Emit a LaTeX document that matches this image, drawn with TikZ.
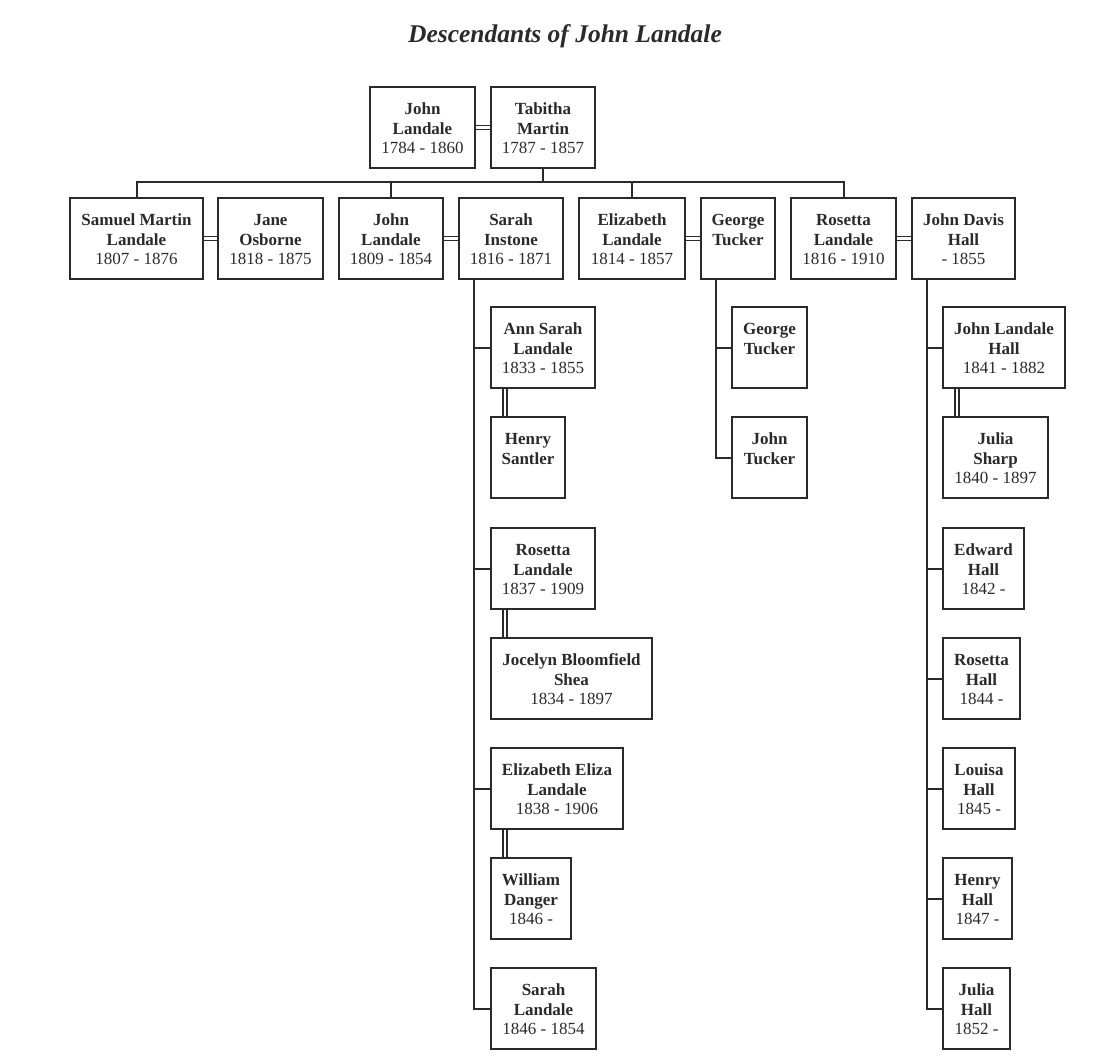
\documentclass[tikz,border=0pt]{standalone}
\usepackage{fontspec}
\setmainfont{Liberation Serif}

\definecolor{ink}{HTML}{2A2A2A}
% name (two bold lines) and dates
\newcommand{\who}[3]{\rule{0pt}{19.5pt}\textbf{#1}\\\textbf{#2}\\#3\strut}

\begin{document}
\begin{tikzpicture}[x=1pt,y=-1pt,
    person/.style={draw=ink, line width=2pt, text=ink, anchor=north west,
      minimum height=81pt, inner sep=0pt, align=center,
      font=\fontsize{17}{19.5}\selectfont},
    link/.style={draw=ink, line width=2pt},
    wed/.style={draw=ink, double=white, double distance=2.2pt, line width=1.5pt}]

    \useasboundingbox (0,0) rectangle (1107,1057);

    % Title
    \node[anchor=base, text=ink, font=\fontsize{25.5}{30}\selectfont\bfseries\itshape] (title) at (565,43) {Descendants of John Landale};

    % First couple
    \node[person, minimum width=105pt] (jl) at (369,86) {\who{John}{Landale}{1784 - 1860}};
    \node[person, minimum width=104pt] (tm) at (490,86) {\who{Tabitha}{Martin}{1787 - 1857}};
    \draw[wed] (jl.east) -- (tm.west);

    % Their children and spouses
    \def\rowtop{197}
    \node[person, minimum width=133pt] (sml) at (69,\rowtop) {\who{Samuel Martin}{Landale}{1807 - 1876}};
    \node[person, minimum width=105pt] (jo) at (217,\rowtop) {\who{Jane}{Osborne}{1818 - 1875}};
    \node[person, minimum width=104pt] (jlb) at (338,\rowtop) {\who{John}{Landale}{1809 - 1854}};
    \node[person, minimum width=104pt] (si) at (458,\rowtop) {\who{Sarah}{Instone}{1816 - 1871}};
    \node[person, minimum width=106pt] (el) at (578,\rowtop) {\who{Elizabeth}{Landale}{1814 - 1857}};
    \node[person, minimum width=74pt] (gt) at (700,\rowtop) {\who{George}{Tucker}{~}};
    \node[person, minimum width=105pt] (rl) at (790,\rowtop) {\who{Rosetta}{Landale}{1816 - 1910}};
    \node[person, minimum width=103pt] (jdh) at (911,\rowtop) {\who{John Davis}{Hall}{- 1855}};

    \foreach \a/\b in {sml/jo, jlb/si, el/gt, rl/jdh}
      \draw[wed] (\a.east) -- (\b.west);

    % Bar from the first couple
    \coordinate (bar) at (0,182);
    \draw[link] (tm.south) -- (tm.south |- bar);
    \draw[link] (sml.north) |- (rl.north |- bar) -- (rl.north);
    \foreach \c in {jlb, el}
      \draw[link] (\c.north) -- (\c.north |- bar);

    % Children of John Landale and Sarah Instone
    \node[person, minimum width=104pt] (asl) at (490,306) {\who{Ann Sarah}{Landale}{1833 - 1855}};
    \node[person, minimum width=74pt] (hs) at (490,416) {\who{Henry}{Santler}{~}};
    \node[person, minimum width=104pt] (rl37) at (490,527) {\who{Rosetta}{Landale}{1837 - 1909}};
    \node[person, minimum width=161pt] (jbs) at (490,637) {\who{Jocelyn Bloomfield}{Shea}{1834 - 1897}};
    \node[person, minimum width=132pt] (eel) at (490,747) {\who{Elizabeth Eliza}{Landale}{1838 - 1906}};
    \node[person, minimum width=80pt] (wd) at (490,857) {\who{William}{Danger}{1846 -}};
    \node[person, minimum width=105pt] (sl) at (490,967) {\who{Sarah}{Landale}{1846 - 1854}};

    \coordinate (siT) at ([xshift=16pt]si.south west);
    \draw[link] (siT) |- (sl.west);
    \foreach \c in {asl, rl37, eel}
      \draw[link] (siT |- \c.west) -- (\c.west);
    \foreach \a/\b in {asl/hs, rl37/jbs, eel/wd}
      \draw[wed] ([xshift=15pt]\a.south west) -- ([xshift=15pt]\b.north west);

    % Children of Elizabeth Landale and George Tucker
    \node[person, minimum width=75pt] (gtj) at (731,306) {\who{George}{Tucker}{~}};
    \node[person, minimum width=75pt] (jt) at (731,416) {\who{John}{Tucker}{~}};

    \coordinate (gtT) at ([xshift=16pt]gt.south west);
    \draw[link] (gtT) |- (jt.west);
    \draw[link] (gtT |- gtj.west) -- (gtj.west);

    % Children of Rosetta Landale and John Davis Hall
    \node[person, minimum width=122pt] (jlh) at (942,306) {\who{John Landale}{Hall}{1841 - 1882}};
    \node[person, minimum width=105pt] (js) at (942,416) {\who{Julia}{Sharp}{1840 - 1897}};
    \node[person, minimum width=81pt] (eh) at (942,527) {\who{Edward}{Hall}{1842 -}};
    \node[person, minimum width=77pt] (rh) at (942,637) {\who{Rosetta}{Hall}{1844 -}};
    \node[person, minimum width=72pt] (lh) at (942,747) {\who{Louisa}{Hall}{1845 -}};
    \node[person, minimum width=69pt] (hh) at (942,857) {\who{Henry}{Hall}{1847 -}};
    \node[person, minimum width=67pt] (jh) at (942,967) {\who{Julia}{Hall}{1852 -}};

    \coordinate (hT) at ([xshift=16pt]jdh.south west);
    \draw[link] (hT) |- (jh.west);
    \foreach \c in {jlh, eh, rh, lh, hh}
      \draw[link] (hT |- \c.west) -- (\c.west);
    \draw[wed] ([xshift=15pt]jlh.south west) -- ([xshift=15pt]js.north west);
\end{tikzpicture}
\end{document}
